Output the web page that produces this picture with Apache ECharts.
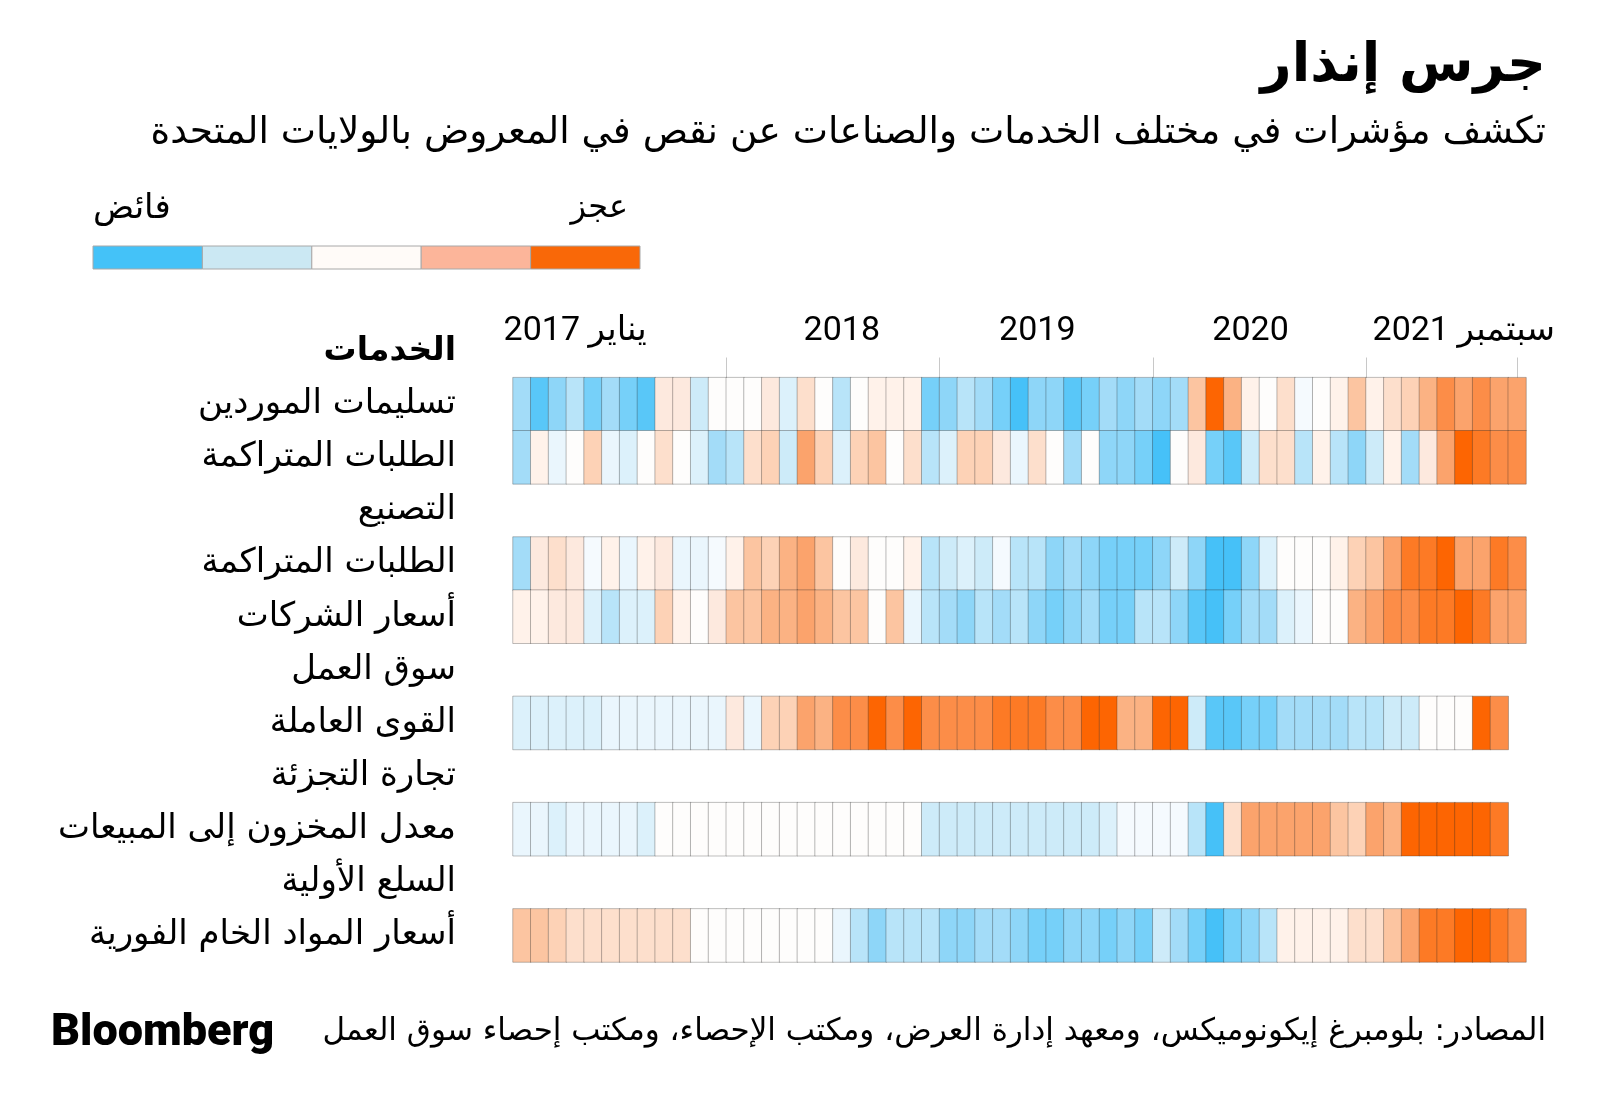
<!DOCTYPE html>
<html><head><meta charset="utf-8">
<script src="https://cdn.jsdelivr.net/npm/echarts@6/dist/echarts.min.js"></script>
<style>html,body{margin:0;padding:0;background:#fff}#c{width:1600px;height:1113px}</style>
</head><body><div id="c"></div>
<script>
// ---- Data ----
// Row labels (y categories); section headers have no data
const rowLabels = ['الخدمات','تسليمات الموردين','الطلبات المتراكمة','التصنيع','الطلبات المتراكمة','أسعار الشركات','سوق العمل','القوى العاملة','تجارة التجزئة','معدل المخزون إلى المبيعات','السلع الأولية','أسعار المواد الخام الفورية'];
const boldRows = [0];

// Months Jan 2017 .. Sep 2021 (x categories)
const months = [];
for (let y = 2017; y <= 2021; y++) for (let m = 1; m <= 12; m++) { if (y === 2021 && m > 9) break; months.push(y + '-' + (m < 10 ? '0' + m : m)); }

// Axis tick labels shown over the month axis
const axisLabelText = { '2017-04': 'يناير 2017', '2018-07': '2018', '2019-06': '2019', '2020-06': '2020', '2021-06': 'سبتمبر 2021' };

// Shortage (+) / surplus (-) intensity, scale -10..10
const servicesSupplierDeliveries = [-6,-9,-7,-5,-8,-6,-8,-9,2,2,-4,0, 0,0,2,-3,3,0,-5,0,1,1,1,-8, -7,-5,-6,-8,-10,-7,-7,-9,-8,-6,-7,-6, -7,-6,5,10,6,1,0,3,-1,0,1,5, 1,3,4,6,8,7,8,7,7];
const servicesBacklog = [-6,1,-2,0,4,-2,-3,0,3,0,-3,-6, -5,3,4,-4,7,4,-3,4,5,0,3,-5, -3,4,4,2,-2,3,0,-6,0,-7,-7,-8, -10,0,2,-8,-9,-4,3,3,-5,1,-5,-7, -4,1,-6,2,7,10,9,8,8];
const manufacturingBacklog = [-6,2,3,2,-1,1,-2,1,2,-2,-2,-1, 1,5,4,6,7,5,0,2,0,0,1,-5, -4,-3,-4,-1,-5,-5,-7,-6,-7,-8,-8,-8, -7,-4,-7,-10,-10,-7,-3,0,0,0,1,4, 5,7,9,9,10,7,7,9,8];
const manufacturingPricesPaid = [1,1,2,2,-3,-5,-3,-3,4,1,0,2, 5,5,6,6,7,6,5,5,0,5,-2,-5, -6,-7,-5,-6,-5,-7,-8,-7,-6,-8,-8,-5, -5,-7,-9,-10,-8,-6,-6,-3,-2,0,0,6, 7,8,8,9,9,10,9,7,7];
const laborForce = [-3,-3,-3,-3,-3,-2,-2,-2,-2,-2,-2,-2, 2,-2,4,4,7,6,8,8,10,8,10,8, 8,8,8,9,9,9,8,8,10,10,6,6, 10,10,-4,-9,-9,-8,-8,-6,-6,-6,-6,-5, -5,-4,-4,0,0,0,10,8];
const retailInventorySales = [-2,-2,-3,-2,-2,-2,-2,-3,0,0,0,0, 0,0,0,0,0,0,0,0,0,0,0,-4, -4,-4,-4,-4,-4,-4,-4,-4,-4,-3,-1,-1, -1,-1,-5,-10,3,7,7,7,7,7,5,4, 7,6,10,10,10,10,10,9];
const commoditySpotPrices = [5,5,4,3,3,3,3,3,3,3,0,0, 0,0,0,0,0,0,-2,-5,-7,-5,-5,-5, -7,-7,-6,-6,-7,-8,-8,-7,-7,-8,-7,-8, -4,-6,-8,-10,-8,-7,-5,1,1,1,1,3, 3,5,7,9,9,10,10,9,8];

const rowSeries = [
  [1, servicesSupplierDeliveries],
  [2, servicesBacklog],
  [4, manufacturingBacklog],
  [5, manufacturingPricesPaid],
  [7, laborForce],
  [9, retailInventorySales],
  [11, commoditySpotPrices]
];

const palette = ['#46c1f8','#59c7f8','#76d0f9','#8ed6f8','#a3dcf8','#b8e4f9','#cdebf9','#dcf1fb','#eaf6fd','#f5fafe','#fefdfc',
                 '#fff2ea','#fde9de','#fddfcc','#fdd2b6','#fcc5a1','#fbb283','#fba36c','#fc8d48','#fd7a25','#fd6502'];
const legendColors = ['#44c2f8','#cbe8f3','#fffbf8','#fcb59a','#f96808'];

// ---- Build ----
const heatData = [];
rowSeries.forEach(([row, vals]) => vals.forEach((v, i) => heatData.push([i, row, v])));

// half-month steps along the time axis (0, 0.5, ... , 57) for boundary ticks
const halfSteps = [];
for (let i = 0; i <= months.length * 2; i++) halfSteps.push(i / 2);

const AR = "'DejaVu Sans', sans-serif";
const LAT = "Roboto, 'DejaVu Sans', sans-serif";

const legendGraphics = [];
const lx = 93, ly = 246, lw = 109.4, lh = 23;
legendColors.forEach((c, i) => legendGraphics.push({
  type: 'rect', shape: { x: lx + i * lw, y: ly, width: lw, height: lh },
  style: { fill: c, stroke: '#a8a8a8', lineWidth: 1 }
}));
legendGraphics.push({ type: 'text', x: lx, y: 209, style: { text: 'فائض', font: "34px " + AR, fill: '#000', textAlign: 'left', textVerticalAlign: 'middle' } });
legendGraphics.push({ type: 'text', x: 628, y: 209, style: { text: 'عجز', font: "32px " + AR, fill: '#000', textAlign: 'right', textVerticalAlign: 'middle' } });
legendGraphics.push({ type: 'text', x: 51, y: 1034, style: { text: 'Bloomberg', font: "900 45px " + LAT, fill: '#000', textAlign: 'left', textVerticalAlign: 'middle' } });

const chart = echarts.init(document.getElementById('c'), null, { renderer: 'canvas' });
chart.setOption({
  backgroundColor: '#fff',
  animation: false,
  title: [
    { text: 'جرس إنذار', right: 54, top: 40, padding: 0, textStyle: { fontFamily: AR, fontWeight: 'bold', fontSize: 54, color: '#000' } },
    { text: 'تكشف مؤشرات في مختلف الخدمات والصناعات عن نقص في المعروض بالولايات المتحدة', right: 54, top: 114, padding: 0, textStyle: { fontFamily: AR, fontWeight: 'normal', fontSize: 37.5, color: '#000' } },
    { text: 'المصادر: بلومبرغ إيكونوميكس، ومعهد إدارة العرض، ومكتب الإحصاء، ومكتب إحصاء سوق العمل', right: 54, top: 1016, padding: 0, textStyle: { fontFamily: AR, fontWeight: 'normal', fontSize: 31, color: '#000' } }
  ],
  graphic: legendGraphics,
  grid: { left: 513, right: 74, top: 324.5, bottom: 151 },
  xAxis: [
    {
      type: 'category', data: months, position: 'top', offset: -56,
      axisLine: { show: false }, axisTick: { show: false },
      axisLabel: { interval: (i, v) => axisLabelText[v] !== undefined, formatter: (v) => axisLabelText[v] || '', margin: 32, fontSize: 34, fontFamily: LAT, color: '#000' },
      splitLine: { show: false }
    },
    {
      type: 'category', data: halfSteps, boundaryGap: false, position: 'top', offset: -56,
      axisLine: { show: false },
      axisTick: { show: true, length: 23, interval: (i) => (i > 0 && i < halfSteps.length - 1 && i % 24 === 0) || i === halfSteps.length - 2, lineStyle: { color: '#c8c8c8', width: 1 } },
      axisLabel: { show: false }, splitLine: { show: false }
    }
  ],
  yAxis: {
    type: 'category', data: rowLabels, inverse: true,
    axisLine: { show: false }, axisTick: { show: false }, splitLine: { show: false },
    axisLabel: {
      margin: 57,
      formatter: (v, i) => boldRows.indexOf(i) >= 0 ? '{h|' + v + '}' : '{n|' + v + '}',
      rich: {
        h: { fontFamily: AR, fontSize: 33, fontWeight: 'bold', color: '#000' },
        n: { fontFamily: AR, fontSize: 34, color: '#000' }
      }
    }
  },
  visualMap: { show: false, type: 'continuous', min: -10, max: 10, dimension: 2, seriesIndex: 0, inRange: { color: palette } },
  series: [{
    type: 'heatmap', xAxisIndex: 0, yAxisIndex: 0, data: heatData,
    itemStyle: { borderColor: 'rgba(40,40,40,0.3)', borderWidth: 1 },
    emphasis: { disabled: true }
  }]
});
</script></body></html>
